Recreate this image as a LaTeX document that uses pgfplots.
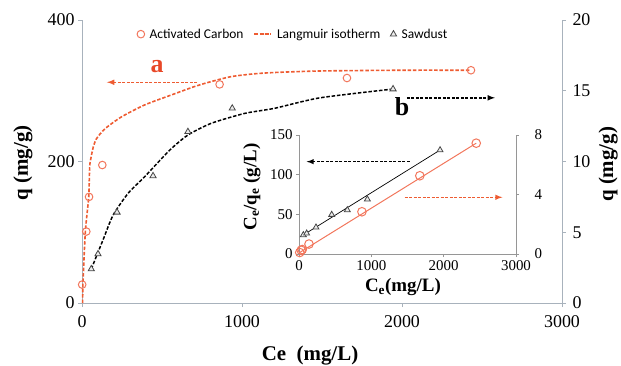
\documentclass[border=0pt]{standalone}
\usepackage{pgfplots}
\pgfplotsset{compat=1.18}
\usepackage{fontspec}
\setmainfont{Liberation Serif}
\newfontfamily\legfont{Carlito}
\definecolor{acorange}{RGB}{242,118,92}
\definecolor{lnorange}{RGB}{238,92,50}
\definecolor{lblred}{RGB}{232,72,40}
\definecolor{axgray}{RGB}{168,178,188}
\definecolor{inaxgray}{RGB}{150,150,150}
\definecolor{trigray}{RGB}{70,70,70}

\pgfplotstableread{
ce q
1 26
27 101
44 150
127 195
860 309
1656 318
2431 329
}\acdata

\pgfplotstableread{
ce q
4 0
6 28
21 101
42 150
48 193
56 205
70 220
90 232
142 246
246 263
392 280
558 294
704 306
808 313
933 320
1079 324
1225 326
1500 328
2000 329
2431 329
}\accurve

\pgfplotstableread{
ce q
58 2.4
100 3.46
219 6.41
444 8.98
662 12.1
939 13.76
1944 15.12
}\sddata

\pgfplotstableread{
ce q
58 2.4
131 4.45
194 6.2
288 7.75
392 8.93
548 10.8
662 11.87
808 12.7
1017 13.4
1204 13.76
1487 14.5
1944 15.12
}\sdcurve

\pgfplotstableread{
ce r
10 0.1
30 0.25
45 0.3
138 0.67
870 2.84
1670 5.26
2450 7.45
}\aclin

\pgfplotstableread{
ce r
60 24
106 26
235 33.6
452 49.6
668 55.5
945 69
1950 131
}\sdlin

\begin{document}
\begin{tikzpicture}[x=1bp,y=1bp]
\useasboundingbox (0,0) rectangle (621,365);

% ---------- main axis, left (activated carbon)
\begin{axis}[
  at={(82bp,62bp)}, anchor=south west, scale only axis,
  width=480bp, height=283bp,
  xmin=0, xmax=3000, ymin=0, ymax=400,
  axis x line*=bottom, axis y line*=left,
  axis line style={axgray, line width=0.9bp, -},
  xtick={0,1000,2000,3000}, ytick={0,200,400},
  tick align=outside, major tick length=4bp,
  tick style={axgray, line width=0.9bp},
  /pgf/number format/assume math mode=true,
  /pgf/number format/1000 sep={},
  ticklabel style={font=\rmfamily\fontsize{18}{20}\selectfont},
  xticklabel style={yshift=-5bp},
  xlabel={Ce\ \ (mg/L)}, ylabel={q (mg/g)},
  label style={font=\rmfamily\fontsize{21}{24}\selectfont\bfseries},
  xlabel style={at={(axis description cs:0.475,-0.184)}, anchor=center},
  ylabel style={at={(axis description cs:-0.123,0.495)}, anchor=center},
  legend columns=3,
  legend style={draw=none, fill=none, at={(axis description cs:0.44,0.95)}, anchor=center,
    font=\legfont\fontsize{13.5}{15}\selectfont,
    /tikz/every odd column/.append style={column sep=3bp},
    /tikz/every even column/.append style={column sep=8bp}},
  legend cell align=left,
  clip=false,
]
\addplot[only marks, mark=o, mark size=3.8bp, mark options={acorange, line width=1bp}] table[x=ce,y=q] {\acdata};
\addlegendentry{Activated Carbon}
\addplot[lnorange, line width=1.6bp, dash pattern=on 3.5bp off 1.8bp, no marks, smooth, tension=0.4] table[x=ce,y=q] {\accurve};
\addlegendentry{Langmuir isotherm}
\addlegendimage{only marks, mark=triangle*, mark size=3.6bp, mark options={draw=trigray, fill=gray!15, line width=0.8bp}}
\addlegendentry{Sawdust}
% annotations
\draw[lnorange, line width=1.5bp, dash pattern=on 3bp off 1.5bp, -latex] (axis cs:719,312) -- (axis cs:156,312);
\node[text=lblred, font=\rmfamily\fontsize{26}{28}\selectfont\bfseries] at (axis cs:469,334) {a};
\draw[black, line width=1.5bp, dash pattern=on 3bp off 1.5bp, -latex] (axis cs:2031,290) -- (axis cs:2581,290);
\node[text=black, font=\rmfamily\fontsize{26}{28}\selectfont\bfseries] at (axis cs:2000,277) {b};
\end{axis}

% ---------- main axis, right (sawdust)
\begin{axis}[
  at={(82bp,62bp)}, anchor=south west, scale only axis,
  width=480bp, height=283bp,
  xmin=0, xmax=3000, ymin=0, ymax=20,
  axis x line=none, axis y line*=right,
  axis line style={axgray, line width=0.9bp, -},
  ytick={0,5,10,15,20},
  tick align=outside, major tick length=4bp,
  tick style={axgray, line width=0.9bp},
  /pgf/number format/assume math mode=true,
  ticklabel style={font=\rmfamily\fontsize{18}{20}\selectfont},
  yticklabel style={xshift=3bp},
  ylabel={q (mg/g)},
  label style={font=\rmfamily\fontsize{21}{24}\selectfont\bfseries},
  ylabel style={at={(axis description cs:1.096,0.49)}, anchor=center},
  clip=false,
]
\addplot[black, line width=1.5bp, dash pattern=on 3.5bp off 1.8bp, no marks, smooth, tension=0.4] table[x=ce,y=q] {\sdcurve};
\addplot[only marks, mark=triangle*, mark size=3.6bp, mark options={draw=trigray, fill=gray!15, line width=0.8bp}] table[x=ce,y=q] {\sddata};
\end{axis}

% ---------- inset, left (sawdust linear)
\begin{axis}[
  at={(299bp,111bp)}, anchor=south west, scale only axis,
  width=217bp, height=119bp,
  xmin=0, xmax=3000, ymin=0, ymax=150,
  axis x line*=bottom, axis y line*=left,
  axis line style={inaxgray, line width=0.8bp, -},
  xtick={0,1000,2000,3000}, ytick={0,50,100,150},
  tick align=outside, major tick length=3bp,
  tick style={inaxgray, line width=0.8bp},
  /pgf/number format/assume math mode=true,
  /pgf/number format/1000 sep={},
  ticklabel style={font=\rmfamily\fontsize{15}{17}\selectfont},
  xlabel={C\textsubscript{e}(mg/L)},
  ylabel={C\textsubscript{e}/q\textsubscript{e} (g/L)},
  label style={font=\rmfamily\fontsize{19}{22}\selectfont\bfseries},
  xlabel style={at={(axis description cs:0.479,-0.277)}, anchor=center},
  ylabel style={at={(axis description cs:-0.217,0.563)}, anchor=center},
  clip=false,
]
\addplot[black, line width=0.7bp, no marks] coordinates {(60,24) (1950,131)};
\addplot[only marks, mark=triangle*, mark size=3.4bp, mark options={draw=trigray, fill=gray!15, line width=0.8bp}] table[x=ce,y=r] {\sdlin};
\draw[black, line width=1.4bp, dash pattern=on 3bp off 1.5bp, -latex] (axis cs:1528,116.4) -- (axis cs:106,116.4);
\draw[lnorange, line width=1.4bp, dash pattern=on 3bp off 1.5bp, -latex] (axis cs:1459,71.5) -- (axis cs:2812,71.5);
\end{axis}

% ---------- inset, right (activated carbon linear)
\begin{axis}[
  at={(299bp,111bp)}, anchor=south west, scale only axis,
  width=217bp, height=119bp,
  xmin=0, xmax=3000, ymin=0, ymax=8,
  axis x line=none, axis y line*=right,
  axis line style={inaxgray, line width=0.8bp, -},
  ytick={0,4,8},
  tick align=outside, major tick length=3bp,
  tick style={inaxgray, line width=0.8bp},
  /pgf/number format/assume math mode=true,
  ticklabel style={font=\rmfamily\fontsize{15}{17}\selectfont},
  yticklabel style={xshift=12bp},
  clip=false,
]
\addplot[acorange, line width=1bp, no marks] coordinates {(10,0.1) (2450,7.45)};
\addplot[only marks, mark=o, mark size=4.3bp, mark options={acorange, line width=1bp}] table[x=ce,y=r] {\aclin};
\end{axis}
\end{tikzpicture}
\end{document}
